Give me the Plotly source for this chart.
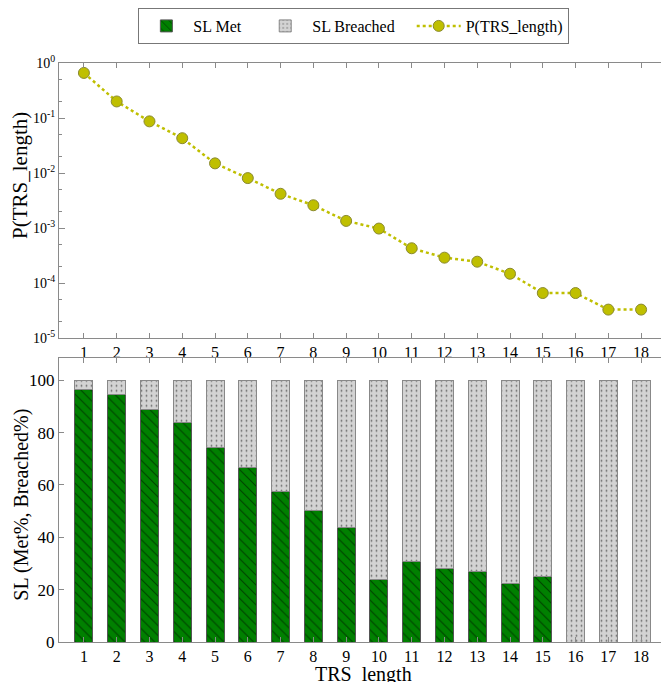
import plotly.graph_objects as go

trs_length = list(range(1, 19))
p_trs = [0.66, 0.20, 0.087, 0.043, 0.015, 0.0081, 0.0042, 0.0026, 0.00135, 0.00098,
         0.00043, 0.00029, 0.000245, 0.000148, 0.000066, 0.000066, 0.000033, 0.000033]
sl_met = [96.4, 94.5, 88.9, 83.7, 74.5, 66.6, 57.5, 50.2, 43.7, 23.8,
          30.8, 28.0, 26.8, 22.3, 25.1, 0, 0, 0]
sl_breached = [100 - v for v in sl_met]
log_tickvals = [1, 0.1, 0.01, 0.001, 0.0001, 0.00001]
log_ticktext = ["10<sup>0</sup>", "10<sup>-1</sup>", "10<sup>-2</sup>", "10<sup>-3</sup>",
                "10<sup>-4</sup>", "10<sup>-5</sup>"]

FONT = "Liberation Serif"
AX = "#8a8a8a"
PAD = "\u00a0" * 3

fig = go.Figure()
fig.add_trace(go.Bar(
    x=trs_length, y=sl_met, name="SL Met" + PAD, xaxis="x2", yaxis="y2", width=0.55,
    marker=dict(color="#008000", line=dict(color="#555555", width=1),
                pattern=dict(shape="\\", fgcolor="#000000", bgcolor="#008000",
                             size=7, solidity=0.15)),
))
fig.add_trace(go.Bar(
    x=trs_length, y=sl_breached, name="SL Breached" + PAD, xaxis="x2", yaxis="y2", width=0.55,
    marker=dict(color="#d3d3d3", line=dict(color="#888888", width=1),
                pattern=dict(shape=".", fgcolor="#000000", bgcolor="#d3d3d3",
                             size=5, solidity=0.1)),
))
fig.add_trace(go.Scatter(
    x=trs_length, y=p_trs, name="P(TRS_length)", mode="lines+markers",
    line=dict(color="#bfbf00", width=2.5, dash="dot"),
    marker=dict(color="#bfbf00", size=11, line=dict(color="#8a8a30", width=1)),
))

common_x = dict(range=[0.24, 18.82], tickmode="array", tickvals=trs_length,
                ticks="inside", ticklen=5, tickcolor=AX, showline=True, linecolor=AX,
                mirror="ticks", showgrid=False, zeroline=False, automargin=False,
                tickfont=dict(family=FONT, size=16, color="black"))

fig.update_layout(
    width=669, height=682,
    margin=dict(l=51, r=9, t=55, b=48, pad=0),
    paper_bgcolor="white", plot_bgcolor="white",
    barmode="stack",
    font=dict(family=FONT, color="black"),
    showlegend=True,
    legend=dict(orientation="h", x=0.517, xanchor="center", y=1.0, yanchor="top",
                yref="container", xref="container", bordercolor="#777777", borderwidth=1,
                font=dict(family=FONT, size=16), traceorder="normal", itemwidth=44),
    xaxis=dict(domain=[0, 1], anchor="y", **common_x),
    yaxis=dict(domain=[0.5248, 1.0], anchor="x", type="log", range=[-5, 0],
               tickmode="array", tickvals=log_tickvals, ticktext=log_ticktext,
               ticks="inside", ticklen=6, tickcolor=AX, showline=True, linecolor=AX,
               mirror="ticks", showgrid=False, zeroline=False, automargin=False,
               minor=dict(ticks="inside", ticklen=3, tickcolor=AX, showgrid=False),
               tickfont=dict(family=FONT, size=14, color="black")),
    xaxis2=dict(domain=[0, 1], anchor="y2", **common_x),
    yaxis2=dict(domain=[0, 0.490], anchor="x2", range=[0, 108.4],
                tickmode="array", tickvals=[0, 20, 40, 60, 80, 100],
                ticks="inside", ticklen=5, tickcolor=AX, showline=True, linecolor=AX,
                mirror="ticks", showgrid=False, zeroline=False, automargin=False,
                tickfont=dict(family=FONT, size=17, color="black")),
    annotations=[
        dict(text="P(TRS_length)", xref="paper", yref="paper", x=-0.064, y=0.805,
             xanchor="center", yanchor="middle", textangle=-90, showarrow=False,
             font=dict(family=FONT, size=21, color="black")),
        dict(text="SL (Met%, Breached%)", xref="paper", yref="paper", x=-0.061, y=0.237,
             xanchor="center", yanchor="middle", textangle=-90, showarrow=False,
             font=dict(family=FONT, size=20, color="black")),
        dict(text="TRS\u00a0 length", xref="paper", yref="paper", x=0.5, y=-0.0555,
             xanchor="center", yanchor="middle", showarrow=False,
             font=dict(family=FONT, size=20, color="black")),
    ],
)

fig.write_html("out.html")
